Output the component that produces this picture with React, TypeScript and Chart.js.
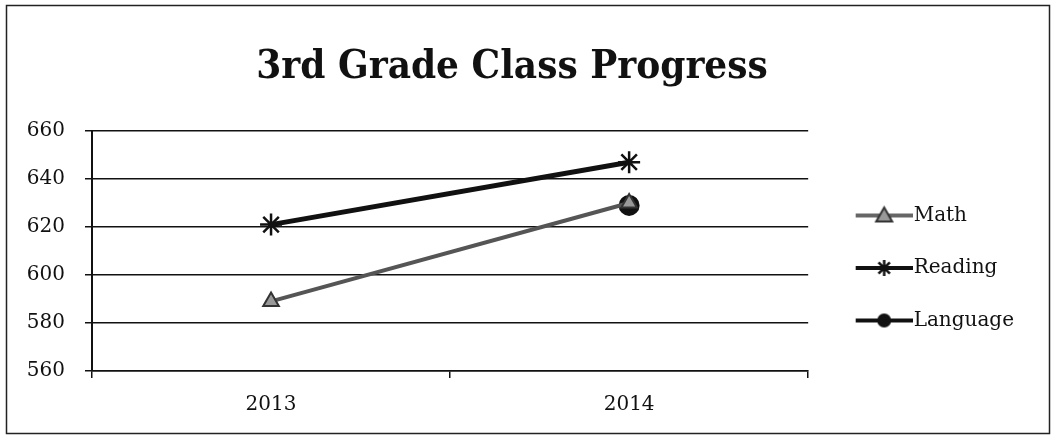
import React, { useEffect, useRef } from "react";
import { Chart, registerables } from "chart.js";

Chart.register(...registerables);

const title = "3rd Grade Class Progress";
const categories = ["2013", "2014"];
const mathScores = [589, 630];
const readingScores = [621, 647];
const languageScores: (number | null)[] = [null, 629];
const yTicks = [560, 580, 600, 620, 640, 660];

const FONT = "'DejaVu Serif', 'Liberation Serif', serif";
const TITLE_FONT = "'DejaVu Serif Condensed', 'DejaVu Serif', serif";

function makeLegendIcon(color: string, style: string, markerColor: string, borderColor: string) {
  const c = document.createElement("canvas");
  c.width = 81;
  c.height = 22;
  const ctx = c.getContext("2d")!;
  const x0 = 24;
  const x1 = 81;
  const cy = 11;
  ctx.strokeStyle = color;
  ctx.lineWidth = 4;
  ctx.beginPath();
  ctx.moveTo(x0, cy);
  ctx.lineTo(x1, cy);
  ctx.stroke();
  const mx = (x0 + x1) / 2;
  ctx.fillStyle = markerColor;
  ctx.strokeStyle = borderColor;
  ctx.lineWidth = 2;
  if (style === "triangle") {
    ctx.beginPath();
    ctx.moveTo(mx, cy - 8);
    ctx.lineTo(mx + 8, cy + 6);
    ctx.lineTo(mx - 8, cy + 6);
    ctx.closePath();
    ctx.fill();
    ctx.stroke();
  } else if (style === "star") {
    ctx.lineWidth = 2.5;
    ctx.beginPath();
    const r = 8;
    for (let i = 0; i < 4; i++) {
      const a = (i * Math.PI) / 4;
      ctx.moveTo(mx - r * Math.sin(a), cy - r * Math.cos(a));
      ctx.lineTo(mx + r * Math.sin(a), cy + r * Math.cos(a));
    }
    ctx.stroke();
  } else {
    ctx.beginPath();
    ctx.arc(mx, cy, 7, 0, Math.PI * 2);
    ctx.fill();
  }
  return c;
}

const framePlugin = {
  id: "frame",
  beforeDraw(chart: any) {
    const ctx = chart.ctx;
    ctx.save();
    ctx.fillStyle = "#ffffff";
    ctx.fillRect(0, 0, chart.width, chart.height);
    ctx.strokeStyle = "#222";
    ctx.lineWidth = 1.5;
    ctx.strokeRect(6.5, 5.5, 1043, 428);
    ctx.restore();
  },
};

export default function App() {
  const ref = useRef<HTMLCanvasElement>(null);

  useEffect(() => {
    if (!ref.current) return;
    const icons = [
      makeLegendIcon("#666", "triangle", "#999", "#333"),
      makeLegendIcon("#111", "star", "#111", "#111"),
      makeLegendIcon("#111", "circle", "#111", "#111"),
    ];
    const chart = new Chart(ref.current, {
      type: "line",
      data: {
        labels: categories,
        datasets: [
          {
            label: "Math",
            data: mathScores,
            borderColor: "#555",
            backgroundColor: "#999",
            borderWidth: 4,
            pointStyle: "triangle",
            pointRadius: 9,
            pointBorderColor: "#333",
            pointBackgroundColor: "#999",
            pointBorderWidth: 2,
          },
          {
            label: "Reading",
            data: readingScores,
            borderColor: "#111",
            backgroundColor: "#111",
            borderWidth: 5,
            pointStyle: "star",
            pointRadius: 11,
            pointBorderColor: "#111",
            pointBorderWidth: 2.5,
          },
          {
            label: "Language",
            data: languageScores,
            borderColor: "#111",
            backgroundColor: "#111",
            borderWidth: 5,
            pointStyle: "circle",
            pointRadius: 8,
            pointBorderColor: "#111",
            pointBackgroundColor: "#111",
          },
        ],
      },
      options: {
        animation: false,
        responsive: false,
        layout: { padding: { left: 0, right: 30, top: 0, bottom: 3 } },
        plugins: {
          title: {
            display: true,
            text: title,
            color: "#111",
            font: { family: TITLE_FONT, size: 40, weight: "bold" },
            padding: { top: 44, bottom: 39 },
          },
          legend: {
            position: "right",
            align: "center",
            fullSize: false,
            title: { display: true, text: "", padding: 5, font: { family: FONT, size: 20 } },
            labels: {
              usePointStyle: true,
              pointStyleWidth: 63,
              color: "#111",
              font: { family: FONT, size: 20 },
              padding: 32.5,
              generateLabels: (ch: any) =>
                ch.data.datasets.map((ds: any, i: number) => ({
                  text: ds.label,
                  pointStyle: icons[i],
                  fillStyle: ds.backgroundColor,
                  strokeStyle: ds.borderColor,
                  lineWidth: 0,
                  hidden: false,
                  datasetIndex: i,
                  fontColor: "#111",
                })),
            },
          },
          tooltip: { enabled: false },
        },
        scales: {
          x: {
            offset: true,
            grid: {
              display: true,
              drawOnChartArea: false,
              drawTicks: true,
              tickLength: 7,
              color: "#111",
              lineWidth: 1.5,
              offset: true,
            },
            border: { display: true, color: "#111", width: 1.5 },
            ticks: {
              color: "#111",
              font: { family: FONT, size: 20 },
              padding: 15,
            },
          },
          y: {
            min: 560,
            max: 660,
            afterBuildTicks: (scale: any) => {
              scale.ticks = yTicks.map((v) => ({ value: v }));
            },
            afterFit: (scale: any) => {
              scale.width = 92;
            },
            grid: {
              color: "#111",
              lineWidth: 1.5,
              tickLength: 7,
            },
            border: { display: true, color: "#111", width: 2 },
            ticks: {
              color: "#111",
              font: { family: FONT, size: 20 },
              padding: 20,
            },
          },
        },
      },
      plugins: [framePlugin],
    });
    return () => chart.destroy();
  }, []);

  return (
    <div style={{ position: "absolute", left: 0, top: 0, width: 1054, height: 435 }}>
      <canvas ref={ref} width={1054} height={435} style={{ display: "block" }} />
    </div>
  );
}
